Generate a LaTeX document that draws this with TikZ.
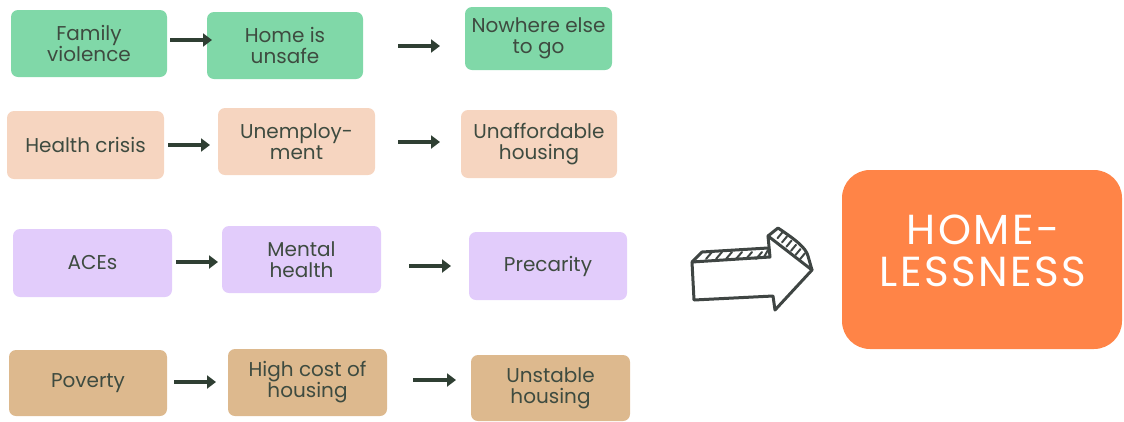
\documentclass[tikz,border=0pt]{standalone}
\usepackage{fontspec}
\setmainfont{Poppins}
\newfontfamily\bigfont[LetterSpace=6]{Poppins}
\usetikzlibrary{arrows.meta,calc}
\definecolor{cgreen}{HTML}{80D8A8}
\definecolor{cpeach}{HTML}{F6D5C0}
\definecolor{clav}{HTML}{E2CCFB}
\definecolor{ctan}{HTML}{DDB98E}
\definecolor{corange}{HTML}{FF8447}
\definecolor{ctext}{HTML}{3E4B40}
\definecolor{carrow}{HTML}{2F3F33}
\definecolor{cbig}{HTML}{3F4543}
\tikzset{
  cbox/.style={rounded corners=7pt, inner sep=0pt, align=center, text=ctext,
    font=\fontsize{20}{21}\selectfont},
  flow/.style={-{Triangle[length=9pt,width=13pt]}, line width=4.5pt, carrow, shorten >=0pt},
}
\begin{document}
\begin{tikzpicture}[x=1pt,y=-1pt]
\useasboundingbox (0,0) rectangle (1124,421);
% row 1
\node[cbox, fill=cgreen, minimum width=156pt, minimum height=67pt] (a1) at (89,43.5) {Family\\violence};
\node[cbox, fill=cgreen, minimum width=156pt, minimum height=67pt] (a2) at (285,45.5) {Home is\\unsafe};
\node[cbox, fill=cgreen, minimum width=147pt, minimum height=63pt] (a3) at (538.5,38.5) {Nowhere else\\to go};
% row 2
\node[cbox, fill=cpeach, minimum width=157pt, minimum height=68pt] (b1) at (85.5,145) {Health crisis};
\node[cbox, fill=cpeach, minimum width=157pt, minimum height=67pt] (b2) at (296.5,141.5) {Unemploy-\\ment};
\node[cbox, fill=cpeach, minimum width=156pt, minimum height=68pt] (b3) at (539,144) {Unaffordable\\housing};
% row 3
\node[cbox, fill=clav, minimum width=159pt, minimum height=68pt] (c1) at (92.5,263) {ACEs};
\node[cbox, fill=clav, minimum width=159pt, minimum height=67pt] (c2) at (301.5,259.5) {Mental\\health};
\node[cbox, fill=clav, minimum width=158pt, minimum height=68pt] (c3) at (548,266) {Precarity};
% row 4
\node[cbox, fill=ctan, minimum width=158pt, minimum height=66pt] (d1) at (88,383) {Poverty};
\node[cbox, fill=ctan, minimum width=159pt, minimum height=67pt] (d2) at (307.5,382.5) {High cost of\\housing};
\node[cbox, fill=ctan, minimum width=159pt, minimum height=66pt] (d3) at (550.5,388) {Unstable\\housing};
% arrows
\coordinate (s1) at (170,40); \coordinate (e1) at (212,40);
\coordinate (s2) at (398,46); \coordinate (e2) at (440,46);
\coordinate (s3) at (168,145); \coordinate (e3) at (210,145);
\coordinate (s4) at (398,142); \coordinate (e4) at (440,142);
\coordinate (s5) at (176,262); \coordinate (e5) at (218,262);
\coordinate (s6) at (409,266); \coordinate (e6) at (451,266);
\coordinate (s7) at (174,382); \coordinate (e7) at (216,382);
\coordinate (s8) at (413,380); \coordinate (e8) at (456,380);
\foreach \i in {1,...,8} {\draw[flow] (s\i) -- (e\i);}
% homelessness
\path[fill=corange, rounded corners=28pt] (842,170) rectangle (1122,349);
\node[inner sep=0pt, align=center, text=white, font=\bigfont\fontsize{42}{42}\selectfont] (H) at (983,251) {HOME-\\LESSNESS};
% big hand-drawn arrow
\begin{scope}[cbig, line width=3pt, line join=round, line cap=round]
\coordinate (p1) at (692,262);
\coordinate (p2) at (770,257);
\coordinate (p3) at (768,236);
\coordinate (p4) at (812,270);
\coordinate (p5) at (775,310);
\coordinate (p6) at (773,296);
\coordinate (p7) at (694,300);
\coordinate (q1) at (702,252);
\coordinate (q2) at (768,248);
\coordinate (q3) at (778,228);
\coordinate (q4) at (808,256);
\draw (p1) -- (p2) -- (p3) -- (p4) -- (p5) -- (p6) -- (p7) -- cycle;
\draw (p1) -- (q1) -- (q2);
\draw (p3) -- (q3) .. controls (796,240) and (806,248) .. (q4) -- (p4);
\end{scope}
\begin{scope}[cbig, line width=2pt, line cap=round]
\foreach \x in {706,716,726,736,746,756} {\draw (\x,259) -- (\x+6,252);}
\draw (764,257) -- (768,250);
\foreach \t in {0.15,0.3,0.45,0.6,0.75,0.9} {
  \draw ($(q3)!\t!(q4)$) -- ++(-5,6);
}
\end{scope}
\end{tikzpicture}
\end{document}
